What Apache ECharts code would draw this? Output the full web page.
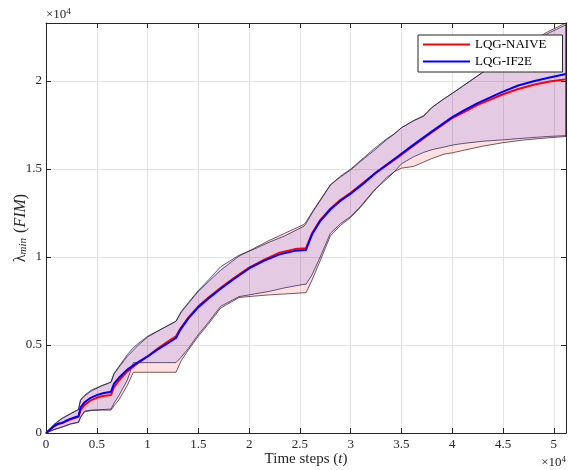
<!DOCTYPE html>
<html>
<head>
<meta charset="utf-8">
<script src="https://cdn.jsdelivr.net/npm/echarts/dist/echarts.min.js"></script>
<style>
html, body { margin: 0; padding: 0; background: #fff; }
#chart { width: 568px; height: 470px; }
</style>
</head>
<body>
<div id="chart"></div>
<script>
// time steps where the mean curves were read
var tMean = [0, 400, 800, 1200, 1600, 2000, 2400, 2800, 3200, 3400, 3800, 4400, 5000, 5600, 6400,
  6700, 7200, 8000, 9000, 10000, 11000, 12000, 12800, 13200, 14000, 15000, 16000, 17200, 18500,
  20000, 21500, 23000, 24500, 25600, 26200, 27000, 28000, 29000, 30000, 31300, 32500, 34600,
  36000, 37900, 40000, 41200, 42500, 45000, 46500, 48100, 49600, 51200];
var naiveMean = [0, 190, 380, 510, 560, 670, 770, 850, 920, 1300, 1600, 1850, 2000, 2100, 2160,
  2600, 3000, 3500, 3950, 4350, 4800, 5200, 5500, 5900, 6550, 7200, 7700, 8250, 8800,
  9400, 9850, 10250, 10450, 10500, 11350, 12100, 12750, 13250, 13650, 14250, 14800, 15650,
  16250, 17050, 17900, 18250, 18650, 19250, 19550, 19800, 19980, 20100];
var if2eMean = [0, 200, 400, 530, 580, 700, 800, 880, 950, 1450, 1750, 2000, 2150, 2260, 2350,
  2800, 3150, 3600, 4000, 4350, 4750, 5100, 5400, 5850, 6500, 7150, 7650, 8200, 8750,
  9350, 9800, 10150, 10350, 10400, 11300, 12050, 12700, 13200, 13600, 14200, 14800, 15700,
  16300, 17100, 17950, 18350, 18750, 19400, 19750, 20000, 20200, 20400];

// time steps where the band edges were read
var tBand = [0, 800, 1600, 2400, 3200, 3400, 3800, 4500, 5500, 6400, 6700, 7200, 8000, 8600, 9000,
  10000, 11500, 12800, 13300, 14000, 15000, 16000, 17200, 19000, 20500, 22000, 23500, 25400, 25600,
  26200, 27000, 28000, 29000, 30000, 31000, 32300, 33500, 34300, 35000, 36200, 37200, 38000, 39200,
  40000, 41000, 43000, 45000, 47000, 49400, 51200];
var naiveUpper = [0, 480, 830, 1080, 1330, 1850, 2100, 2400, 2680, 2880, 3350, 3750, 4350, 4700, 4950,
  5450, 5950, 6350, 6850, 7350, 8050, 8600, 9250, 10050, 10500, 10950, 11350, 11850, 12000,
  12550, 13250, 14100, 14550, 14950, 15450, 16050, 16650, 17000, 17350, 17750, 18050, 18500, 19000,
  19300, 19700, 20500, 21250, 21950, 22800, 23300];
var naiveLower = [0, 190, 330, 500, 600, 880, 1200, 1280, 1300, 1300, 1550, 1900, 2700, 3450, 3450,
  3450, 3450, 3450, 4100, 4700, 5500, 6200, 7100, 7700, 7780, 7850, 7900, 7970, 7970,
  8700, 9800, 11200, 11800, 12250, 12850, 13750, 14500, 14850, 15050, 15150, 15400, 15600, 15850,
  15920, 16050, 16300, 16500, 16650, 16770, 16850];
var if2eUpper = [0, 500, 850, 1100, 1350, 1900, 2150, 2450, 2700, 2900, 3400, 3800, 4450, 4850, 5050,
  5500, 5950, 6350, 6900, 7400, 8100, 8700, 9450, 10100, 10450, 10850, 11200, 11750, 11900,
  12500, 13200, 14100, 14600, 15000, 15500, 16150, 16700, 17000, 17350, 17750, 18000, 18500, 19000,
  19300, 19700, 20500, 21200, 21900, 22700, 23200];
var if2eLower = [0, 200, 350, 520, 620, 900, 1250, 1300, 1330, 1360, 1700, 2150, 3000, 4000, 4000,
  4000, 4000, 4000, 4300, 4800, 5600, 6300, 7200, 7750, 7900, 8050, 8250, 8450, 8450,
  9000, 10000, 11350, 11900, 12300, 12900, 13800, 14400, 14850, 15300, 15700, 15950, 16100, 16250,
  16360, 16450, 16580, 16660, 16750, 16850, 16900];

var serif = '"Liberation Serif", "DejaVu Serif", serif';
var axisColor = '#262626';

function pairs(xs, ys) {
  return xs.map(function (x, i) { return [x, ys[i]]; });
}

// shaded band between lower and upper, drawn as one polygon
function band(name, upper, lower, fill, edge, z) {
  return {
    type: 'custom',
    name: name,
    z: z,
    silent: true,
    data: [[0, 0]],
    renderItem: function (params, api) {
      var pts = [];
      for (var i = 0; i < tBand.length; i++) pts.push(api.coord([tBand[i], upper[i]]));
      for (var j = tBand.length - 1; j >= 0; j--) pts.push(api.coord([tBand[j], lower[j]]));
      return {
        type: 'polygon',
        shape: { points: pts },
        style: { fill: fill, stroke: edge, lineWidth: 0.8 }
      };
    }
  };
}

var chart = echarts.init(document.getElementById('chart'));

var tickFmt = function (v) { return String(+(v / 10000).toFixed(1)); };

var expRich = {
  a: { fontFamily: serif, fontSize: 13, fill: axisColor },
  b: { fontFamily: serif, fontSize: 9, fill: axisColor, verticalAlign: 'top', padding: [0, 0, 7, 0] }
};

chart.setOption({
  animation: false,
  grid: { left: 46, right: 2, top: 23, bottom: 37, containLabel: false, outerBoundsMode: 'none' },
  legend: {
    data: ['LQG-NAIVE', 'LQG-IF2E'],
    orient: 'vertical',
    left: 418,
    top: 35,
    padding: [2, 16, 3, 5],
    itemGap: 2,
    itemWidth: 47,
    itemHeight: 2,
    icon: 'rect',
    backgroundColor: '#fff',
    borderColor: axisColor,
    borderWidth: 1,
    textStyle: { fontFamily: serif, fontSize: 13, color: '#000', lineHeight: 15 }
  },
  xAxis: [{
    type: 'value',
    min: 0,
    max: 51200,
    interval: 5000,
    position: 'bottom',
    axisLine: { onZero: false, lineStyle: { color: axisColor } },
    axisTick: { inside: true, length: 5, lineStyle: { color: axisColor } },
    axisLabel: { formatter: tickFmt, fontFamily: serif, fontSize: 13, color: axisColor, margin: 5, showMaxLabel: false },
    splitLine: { show: true, lineStyle: { color: '#e4e4e4' } },
    name: '{n|Time steps (}{i|t}{n|)}',
    nameLocation: 'middle',
    nameGap: 19,
    nameMoveOverlap: false,
    nameTextStyle: {
      rich: {
        n: { fontFamily: serif, fontSize: 15, color: axisColor },
        i: { fontFamily: serif, fontSize: 15, fontStyle: 'italic', color: axisColor }
      }
    }
  }, {
    type: 'value',
    min: 0,
    max: 51200,
    interval: 5000,
    position: 'top',
    axisLine: { onZero: false, lineStyle: { color: axisColor } },
    axisTick: { inside: true, length: 5, lineStyle: { color: axisColor } },
    axisLabel: { show: false },
    splitLine: { show: false }
  }],
  yAxis: [{
    type: 'value',
    min: 0,
    max: 23300,
    interval: 5000,
    position: 'left',
    axisLine: { show: true, onZero: false, lineStyle: { color: axisColor } },
    axisTick: { show: true, inside: true, length: 5, lineStyle: { color: axisColor } },
    axisLabel: { formatter: tickFmt, fontFamily: serif, fontSize: 13, color: axisColor, margin: 4, showMaxLabel: false },
    splitLine: { show: true, lineStyle: { color: '#e4e4e4' } },
    name: '{n|λ}{s|min}{n| (}{i|FIM}{n|)}',
    nameLocation: 'middle',
    nameRotate: 90,
    nameGap: 17,
    nameMoveOverlap: false,
    nameTextStyle: {
      rich: {
        n: { fontFamily: serif, fontSize: 16, color: axisColor },
        s: { fontFamily: serif, fontSize: 11, fontStyle: 'italic', color: axisColor, verticalAlign: 'bottom', lineHeight: 12, padding: [6, 1, 0, 0] },
        i: { fontFamily: serif, fontSize: 16, fontStyle: 'italic', color: axisColor }
      }
    }
  }, {
    type: 'value',
    min: 0,
    max: 23300,
    interval: 5000,
    position: 'right',
    axisLine: { show: true, onZero: false, lineStyle: { color: axisColor } },
    axisTick: { show: true, inside: true, length: 5, lineStyle: { color: axisColor } },
    axisLabel: { show: false },
    splitLine: { show: false }
  }],
  graphic: [{
    type: 'text',
    left: 46,
    top: 7,
    style: { text: '{a|×10}{b|4}', rich: expRich }
  }, {
    type: 'text',
    right: 2,
    top: 455,
    style: { text: '{a|×10}{b|4}', rich: expRich }
  }],
  series: [
    band('naive band', naiveUpper, naiveLower, 'rgba(255,0,0,0.12)', 'rgba(60,10,10,0.85)', 1),
    band('if2e band', if2eUpper, if2eLower, 'rgba(0,0,255,0.10)', 'rgba(20,20,70,0.85)', 2),
    {
      name: 'LQG-NAIVE',
      type: 'line',
      z: 3,
      data: pairs(tMean, naiveMean),
      showSymbol: false,
      symbol: 'none',
      color: '#ff0000',
      lineStyle: { color: '#ff0000', width: 2 }
    },
    {
      name: 'LQG-IF2E',
      type: 'line',
      z: 4,
      data: pairs(tMean, if2eMean),
      showSymbol: false,
      symbol: 'none',
      color: '#0000ff',
      lineStyle: { color: '#0000ff', width: 2 }
    }
  ]
});
</script>
</body>
</html>
